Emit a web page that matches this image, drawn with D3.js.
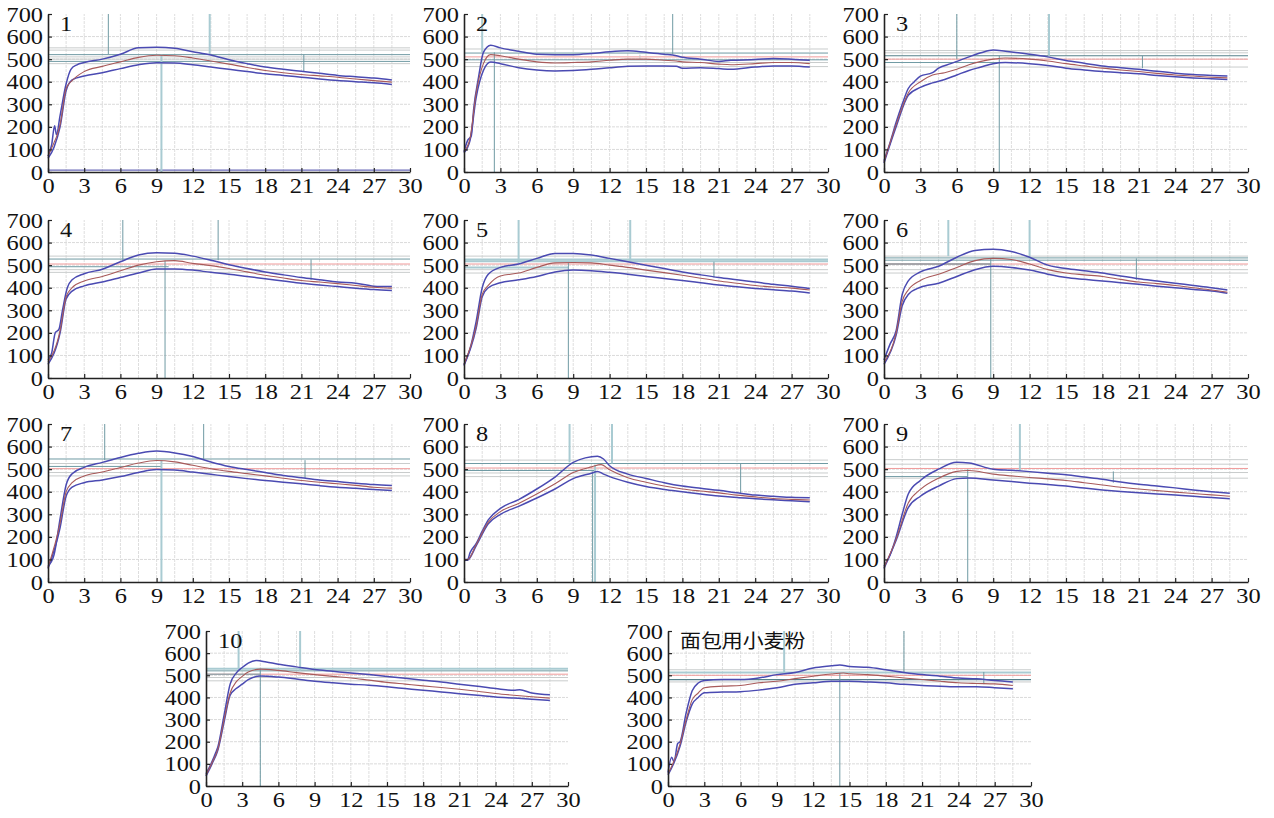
<!DOCTYPE html>
<html><head><meta charset="utf-8">
<script src="https://cdn.jsdelivr.net/npm/d3@7"></script>
<style>
html,body{margin:0;padding:0;background:#fff;}
svg{display:block;}
svg text.lbl{font-family:"Liberation Serif","DejaVu Serif",serif;}
svg text.cjk{font-family:"Noto Sans CJK SC",sans-serif;}
</style></head>
<body>
<svg id="chart" width="1274" height="818"></svg>
<script>
// ---------------- DATA ----------------
const panelTitles = ["1","2","3","4","5","6","7","8","9","10","面包用小麦粉"];
const xTicks = [0,3,6,9,12,15,18,21,24,27,30];
const yTicks = [0,100,200,300,400,500,600,700];

// upper envelope (blue) per panel: [minute, BU]
const upperCurves = [
 [[0,70],[0.3,120],[0.55,205],[0.7,165],[1,250],[1.5,390],[1.9,455],[2.4,475],[3,485],[4.5,500],[6,522],[7.5,550],[9,553],[10.5,548],[12,533],[13.5,518],[15,497],[16.5,480],[18,465],[19.5,455],[21,446],[22.5,437],[24,428],[25.5,422],[27,416],[28.5,408]],
 [[0,90],[0.3,140],[0.6,160],[0.8,280],[1.2,420],[1.6,530],[2.2,562],[3,550],[4.5,535],[6,522],[7.5,520],[9,520],[10.5,525],[12,533],[13.5,537],[15,530],[16.5,522],[17.5,515],[18,508],[19.5,500],[21,490],[22,495],[24,498],[25.5,503],[27,500],[28.5,495]],
 [[0,50],[0.5,130],[1,220],[1.5,300],[2,370],[2.5,400],[3,425],[4,440],[4.5,460],[5.5,480],[6,490],[7,510],[8,528],[9,540],[10,535],[12,522],[13.5,510],[15,494],[16.5,482],[18,470],[19.5,462],[21,455],[22.5,446],[24,438],[25.5,432],[27,428],[28.3,425]],
 [[0,80],[0.3,110],[0.6,200],[0.9,215],[1.2,300],[1.6,400],[2,435],[3,462],[4.5,482],[6,515],[7.5,545],[9,555],[10.5,553],[12,540],[13.5,522],[15,502],[16.5,485],[18,470],[19.5,457],[21,445],[22.5,435],[24,425],[25.5,420],[27,407],[28.5,405]],
 [[0,60],[0.5,130],[1,250],[1.5,400],[2,460],[3,490],[4.5,505],[6,530],[7.5,552],[9,552],[10.5,545],[12,530],[13.5,515],[15,500],[16.5,485],[18,470],[19.5,457],[21,445],[22.5,435],[24,425],[25.5,415],[27,407],[28.5,397]],
 [[0,80],[0.5,150],[1,210],[1.5,370],[2,430],[3,470],[4.5,495],[6,535],[7.5,565],[9,570],[10.5,560],[12,535],[13.5,500],[15,485],[16.5,475],[18,465],[19.5,452],[21,440],[22.5,430],[24,420],[25.5,410],[27,400],[28.3,390]],
 [[0,70],[0.5,120],[1,280],[1.5,430],[2,480],[3,508],[4.5,530],[6,552],[7.5,570],[9,580],[10.5,572],[12,556],[13.5,532],[15,512],[16.5,498],[18,485],[19.5,472],[21,462],[22.5,452],[24,445],[25.5,438],[27,432],[28.5,428]],
 [[0,100],[0.3,100],[0.5,130],[1,170],[1.5,225],[2,275],[3,326],[4.5,365],[6,412],[7.5,465],[9,530],[10,550],[11,557],[11.5,545],[12,515],[13.5,478],[15,459],[16.5,440],[18,425],[19.5,415],[21,406],[22.5,395],[24,385],[25.5,380],[27,375],[28.5,373]],
 [[0,70],[0.5,120],[1,200],[1.5,300],[2,390],[3,450],[4.5,500],[6,530],[7,527],[9,500],[10.5,495],[12,489],[13.5,482],[15,475],[16.5,465],[18,455],[19.5,443],[21,433],[22.5,425],[24,417],[25.5,408],[27,400],[28.5,393]],
 [[0,55],[0.5,110],[0.8,150],[1,180],[1.5,320],[2,460],[2.5,510],[3,535],[3.5,555],[4.2,567],[5,560],[6,550],[7.5,538],[9,526],[10.5,518],[12,510],[13.5,503],[15,495],[16.5,487],[18,478],[19.5,470],[21,460],[22.5,450],[24,440],[25.5,432],[26,435],[27,420],[28.5,412]],
 [[0,60],[0.3,130],[0.5,110],[0.8,192],[1,200],[1.5,330],[2,430],[2.5,465],[3,476],[4.5,481],[6,481],[7.5,488],[9,503],[10.5,513],[12,533],[13.5,543],[14.2,547],[15,540],[16.5,536],[18,525],[19.5,513],[21,503],[22.5,496],[24,488],[25.5,484],[27,476],[28.5,470]]
];
// middle curve (red) per panel
const middleCurves = [
 [[0,70],[0.5,130],[0.8,170],[1,210],[1.5,370],[2,405],[3,445],[4.5,468],[6,488],[7.5,508],[9,517],[10.5,515],[12,505],[13.5,492],[15,478],[16.5,463],[18,450],[19.5,440],[21,432],[22.5,426],[24,420],[25.5,412],[27,405],[28.5,398]],
 [[0,90],[0.5,150],[1,350],[1.6,480],[2.2,520],[3,515],[4.5,500],[6,488],[7.5,483],[9,485],[10.5,488],[12,495],[13.5,500],[15,500],[16.5,495],[17.5,492],[18,488],[19.5,485],[21,478],[22,475],[24,480],[25.5,485],[27,485],[28.5,480]],
 [[0,45],[1,210],[2,350],[3,400],[4,430],[5,440],[6,455],[7,475],[8,490],[9,500],[10,505],[12,500],[13.5,492],[15,480],[16.5,470],[18,460],[19.5,452],[21,445],[22.5,437],[24,430],[25.5,425],[27,420],[28.3,417]],
 [[0,70],[1,210],[1.5,360],[2,400],[3,430],[4.5,450],[6,475],[7.5,500],[9,515],[10.5,520],[12,508],[13.5,498],[15,485],[16.5,470],[18,455],[19.5,443],[21,432],[22.5,425],[24,418],[25.5,410],[27,402],[28.5,398]],
 [[0,60],[1,230],[1.5,370],[2,410],[3,452],[4.5,465],[6,490],[7.5,510],[9,512],[10.5,510],[12,500],[13.5,490],[15,478],[16.5,467],[18,455],[19.5,442],[21,430],[22.5,420],[24,410],[25.5,403],[27,398],[28.5,390]],
 [[0,70],[1,200],[1.5,340],[2,390],[3,432],[4.5,460],[6,490],[7.5,520],[9,530],[10.5,525],[12,505],[13.5,480],[15,465],[16.5,457],[18,450],[19.5,437],[21,425],[22.5,418],[24,410],[25.5,400],[27,390],[28.3,380]],
 [[0,65],[1,260],[1.5,400],[2,440],[3,470],[4.5,487],[6,507],[7.5,527],[9,538],[10.5,532],[12,517],[13.5,502],[15,490],[16.5,480],[18,470],[19.5,460],[21,450],[22.5,442],[24,435],[25.5,428],[27,420],[28.5,416]],
 [[0,100],[0.3,100],[1,165],[2,265],[3,312],[4.5,348],[6,390],[7.5,435],[9,485],[10.5,510],[11.3,520],[12,497],[13.5,462],[15,442],[16.5,425],[18,412],[19.5,403],[21,395],[22.5,385],[24,377],[25.5,370],[27,366],[28.5,363]],
 [[0,65],[1,190],[2,350],[3,410],[4.5,460],[6,490],[7,494],[9,478],[10.5,470],[12,463],[13.5,457],[15,450],[16.5,440],[18,430],[19.5,420],[21,412],[22.5,405],[24,398],[25.5,392],[27,386],[28.5,380]],
 [[0,50],[0.5,105],[1,170],[1.5,300],[2,420],[2.5,470],[3,495],[3.5,515],[4.5,528],[6,522],[7.5,512],[9,503],[10.5,495],[12,488],[13.5,478],[15,468],[16.5,460],[18,452],[19.5,445],[21,437],[22.5,428],[24,418],[25.5,410],[27,403],[28.5,397]],
 [[0,55],[1,190],[1.5,300],[2,390],[2.5,420],[3,444],[4.5,451],[6,454],[7.5,466],[9,473],[10.5,485],[12,496],[13.5,506],[14.5,510],[15,507],[16.5,503],[18,496],[19.5,488],[21,481],[22.5,473],[24,466],[25.5,463],[27,461],[28.5,454]]
];
// lower envelope (blue) per panel
const lowerCurves = [
 [[0,60],[0.5,110],[1,200],[1.5,360],[2,408],[3,425],[4.5,440],[6,458],[7.5,475],[9,484],[10.5,483],[12,475],[13.5,465],[15,455],[16.5,445],[18,435],[19.5,428],[21,420],[22.5,412],[24,405],[25.5,400],[27,395],[28.5,388]],
 [[0,85],[0.5,140],[1,330],[1.6,450],[2.2,487],[3,480],[4.5,462],[6,452],[7.5,448],[9,450],[10.5,455],[12,462],[13.5,468],[15,470],[16.5,470],[17.5,468],[18,460],[19.5,462],[21,458],[22,455],[24,465],[25.5,470],[27,470],[28.5,465]],
 [[0,40],[1,200],[2,340],[3,375],[4,395],[5,410],[6,430],[7,450],[8,465],[9,480],[10,485],[12,480],[13.5,472],[15,460],[16.5,452],[18,445],[19.5,440],[21,435],[22.5,428],[24,422],[25.5,417],[27,413],[28.3,410]],
 [[0,60],[1,200],[1.5,350],[2,385],[3,408],[4.5,425],[6,445],[7.5,465],[9,483],[10.5,483],[12,478],[13.5,468],[15,460],[16.5,450],[18,440],[19.5,430],[21,420],[22.5,412],[24,405],[25.5,398],[27,392],[28.5,388]],
 [[0,55],[1,220],[1.5,360],[2,400],[3,422],[4.5,435],[6,450],[7.5,470],[9,478],[10.5,475],[12,468],[13.5,460],[15,450],[16.5,441],[18,432],[19.5,422],[21,412],[22.5,404],[24,397],[25.5,391],[27,385],[28.5,377]],
 [[0,60],[1,190],[1.5,320],[2,370],[3,402],[4.5,420],[6,450],[7.5,480],[9,495],[10.5,490],[12,478],[13.5,460],[15,445],[16.5,437],[18,430],[19.5,422],[21,415],[22.5,407],[24,400],[25.5,392],[27,385],[28.3,375]],
 [[0,60],[1,240],[1.5,380],[2,420],[3,440],[4.5,452],[6,467],[7.5,485],[9,498],[10.5,496],[12,487],[13.5,477],[15,467],[16.5,458],[18,450],[19.5,442],[21,435],[22.5,427],[24,420],[25.5,415],[27,410],[28.5,405]],
 [[0,95],[0.3,97],[1,160],[2,258],[3,300],[4.5,335],[6,372],[7.5,412],[9,458],[10.5,482],[11,490],[11.5,478],[12,467],[13.5,442],[15,423],[16.5,410],[18,400],[19.5,390],[21,381],[22.5,374],[24,369],[25.5,364],[27,360],[28.5,356]],
 [[0,60],[1,185],[2,330],[3,380],[4.5,425],[6,458],[7,461],[9,452],[10.5,445],[12,438],[13.5,432],[15,425],[16.5,416],[18,408],[19.5,401],[21,395],[22.5,390],[24,385],[25.5,380],[27,374],[28.5,369]],
 [[0,45],[0.5,100],[1,165],[1.5,290],[2,410],[2.5,440],[3,460],[3.5,480],[4.5,497],[6,492],[7.5,483],[9,473],[10.5,466],[12,460],[13.5,455],[15,448],[16.5,440],[18,432],[19.5,425],[21,417],[22.5,410],[24,402],[25.5,397],[27,392],[28.5,386]],
 [[0,50],[1,180],[1.5,290],[2,370],[2.5,400],[3,421],[4.5,424],[6,426],[7.5,433],[9,444],[10.5,459],[12,466],[13.5,473],[15,473],[16.5,470],[18,466],[19.5,459],[21,454],[22.5,451],[24,448],[25.5,448],[27,444],[28.5,439]]
];
// horizontal reference levels per panel: [BU, kind, endMinute]
const levelLines = [
 [[550,"grey"],[540,"grey"],[520,"teal"],[510,"grey"],[500,"grey"],[490,"teal"],[480,"grey"],[8,"trace"]],
 [[545,"grey"],[527,"teal"],[510,"red"],[497,"teal"],[485,"grey"],[467,"grey"]],
 [[538,"grey"],[528,"grey"],[515,"dark"],[500,"red"],[485,"teal",9.5],[465,"grey"]],
 [[540,"grey"],[527,"teal"],[505,"red"],[493,"teal",10],[480,"grey"],[468,"grey"]],
 [[540,"grey"],[525,"light"],[517,"light"],[505,"red"],[490,"light",8.6],[480,"grey"],[465,"grey"]],
 [[540,"grey"],[532,"teal"],[522,"teal"],[505,"red"],[505,"dark",8.8],[480,"grey"],[465,"grey"]],
 [[545,"teal"],[525,"grey"],[512,"teal",9.4],[502,"red"],[485,"grey"],[470,"grey"]],
 [[540,"grey"],[525,"teal"],[505,"red"],[494,"teal",10.8],[483,"grey"],[467,"grey"]],
 [[542,"grey"],[522,"grey"],[503,"red"],[485,"grey"],[467,"teal",6.9],[460,"grey"]],
 [[530,"light"],[520,"teal"],[505,"red"],[505,"teal",4.5],[490,"grey"],[475,"grey"]],
 [[525,"grey"],[513,"light"],[500,"red"],[480,"dark"],[470,"grey"]]
];
// vertical time markers per panel: [minute, fromBU, toBU, kind]
const markerLines = [
 [[5.0,700,522,"teal"],[13.4,700,520,"light"],[9.4,520,0,"light"],[21.2,520,445,"teal"]],
 [[1.5,700,530,"light"],[2.5,530,0,"teal"],[17.2,700,522,"teal"],[14.5,520,500,"grey"]],
 [[6,700,500,"teal"],[13.6,700,515,"light"],[9.5,515,0,"teal"],[21.3,515,460,"teal"]],
 [[6.2,700,522,"teal"],[14.1,700,522,"teal"],[9.7,520,0,"teal"],[21.8,525,435,"teal"]],
 [[4.5,700,510,"light"],[13.7,700,515,"light"],[8.6,510,0,"teal"],[20.6,515,445,"teal"]],
 [[5.3,700,540,"light"],[12,700,530,"light"],[8.8,530,0,"teal"],[20.8,530,435,"teal"]],
 [[4.7,700,540,"teal"],[12.9,700,540,"teal"],[9.4,540,0,"light"],[21.3,540,460,"teal"]],
 [[8.7,700,530,"light"],[12.2,700,525,"light"],[10.8,520,0,"light"],[10.6,490,0,"teal"],[22.8,525,390,"teal"]],
 [[11.2,700,495,"light"],[6.9,500,0,"teal"],[18.9,490,440,"teal"]],
 [[2.7,700,530,"light"],[7.8,700,520,"light"],[4.5,530,0,"teal"],[16.5,505,480,"grey"]],
 [[9.6,700,510,"light"],[19.5,700,510,"teal"],[14.2,510,0,"teal"],[26.1,515,460,"teal"]]
];

// ---------------- LAYOUT ----------------
const frames = [
 {x0:48,x1:410,top:14,bottom:172},{x0:464,x1:828,top:14,bottom:172},{x0:884,x1:1248,top:14,bottom:172},
 {x0:48,x1:410,top:220,bottom:378},{x0:464,x1:828,top:220,bottom:378},{x0:884,x1:1248,top:220,bottom:378},
 {x0:48,x1:410,top:424,bottom:582},{x0:464,x1:828,top:424,bottom:582},{x0:884,x1:1248,top:424,bottom:582},
 {x0:206,x1:568,top:631,bottom:786},{x0:668,x1:1031,top:631,bottom:786}
];
const styles = {
 grey:{c:"#c9cccc",w:1},
 teal:{c:"#6f9aa3",w:1},
 light:{c:"#a9cbd2",w:2},
 dark:{c:"#56808a",w:1.2},
 red:{c:"#f09a9a",w:1},
 trace:{c:"#6a6ab8",w:1.2}
};
const FS = 21, SX = 1.16;

const svg = d3.select("#chart");

frames.forEach((f, i) => {
  const x = d3.scaleLinear().domain([0,30]).range([f.x0, f.x1]);
  const y = d3.scaleLinear().domain([0,700]).range([f.bottom, f.top]);
  const g = svg.append("g");

  // grid
  const gx = d3.range(1,20).map(k => k*1.5);
  g.append("g").selectAll("line").data(gx).join("line")
    .attr("x1", d => x(d)).attr("x2", d => x(d))
    .attr("y1", y(0)).attr("y2", y(700))
    .attr("stroke", "#dedede").attr("stroke-width", 1).attr("stroke-dasharray","3,1");
  g.append("g").selectAll("line").data(yTicks.filter(v => v > 0 && v < 700)).join("line")
    .attr("x1", x(0)).attr("x2", x(30))
    .attr("y1", d => y(d)).attr("y2", d => y(d))
    .attr("stroke", "#dadada").attr("stroke-width", 1).attr("stroke-dasharray","3,1");

  // level lines
  g.append("g").selectAll("line").data(levelLines[i]).join("line")
    .attr("x1", x(0)).attr("x2", d => x(d[2] !== undefined ? d[2] : 30))
    .attr("y1", d => y(d[0])).attr("y2", d => y(d[0]))
    .attr("stroke", d => styles[d[1]].c).attr("stroke-width", d => styles[d[1]].w);

  // markers
  g.append("g").selectAll("line").data(markerLines[i]).join("line")
    .attr("x1", d => x(d[0])).attr("x2", d => x(d[0]))
    .attr("y1", d => y(d[1])).attr("y2", d => y(d[2]))
    .attr("stroke", d => styles[d[3]].c).attr("stroke-width", d => styles[d[3]].w);

  // curves
  const line = d3.line().x(d => x(d[0])).y(d => y(d[1])).curve(d3.curveMonotoneX);
  g.append("path").attr("d", line(lowerCurves[i])).attr("fill","none")
    .attr("stroke","#4a4ab2").attr("stroke-width",1.5);
  g.append("path").attr("d", line(upperCurves[i])).attr("fill","none")
    .attr("stroke","#4a4ab2").attr("stroke-width",1.5);
  g.append("path").attr("d", line(middleCurves[i])).attr("fill","none")
    .attr("stroke","#a85a5a").attr("stroke-width",1.1);

  // axes
  const ax = g.append("g").attr("transform", `translate(0,${f.bottom})`)
    .call(d3.axisBottom(x).tickValues(xTicks).tickSize(-4).tickSizeOuter(0).tickPadding(4));
  const ay = g.append("g").attr("transform", `translate(${f.x0},0)`)
    .call(d3.axisLeft(y).tickValues(yTicks).tickSize(-4).tickSizeOuter(0).tickPadding(4));
  [ax, ay].forEach(a => {
    a.attr("font-family", null).attr("font-size", null);
    a.select(".domain").attr("stroke","#222").attr("stroke-width",1.6);
    a.selectAll(".tick line").attr("stroke","#222").attr("stroke-width",1.2);
    a.selectAll("text").attr("class","lbl").style("font-size", FS + "px").attr("fill","#111");
  });
  ax.selectAll("text").attr("y", 6).attr("dy","0.71em")
    .attr("transform", `scale(${SX},1)`);
  ay.selectAll("text").attr("x", -5/SX).attr("dy","0.34em")
    .attr("transform", `scale(${SX},1)`);

  // title
  const isCJK = i === 10;
  g.append("text")
    .attr("class", isCJK ? "cjk" : "lbl")
    .attr("transform", `translate(${f.x0 + 12},${f.top + 17}) scale(${isCJK ? 1.1 : SX},1)`)
    .style("font-size", (isCJK ? 19 : FS) + "px").attr("fill","#111")
    .text(panelTitles[i]);
});
</script>
</body></html>
